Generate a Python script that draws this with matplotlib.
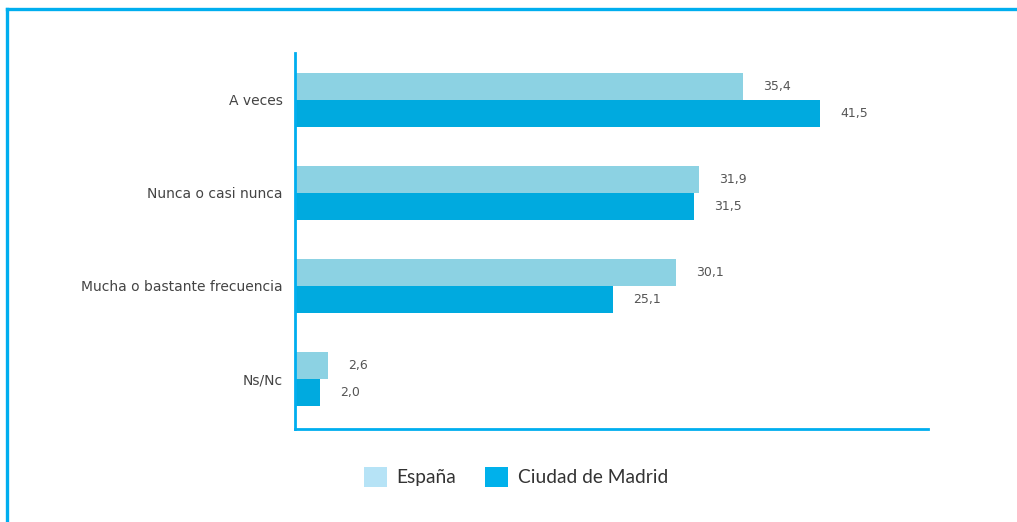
import matplotlib
matplotlib.use("Agg")
import matplotlib.pyplot as plt
from matplotlib.patches import Patch
import numpy as np

categories = ["A veces", "Nunca o casi nunca", "Mucha o bastante frecuencia", "Ns/Nc"]
espana = [35.4, 31.9, 30.1, 2.6]
madrid = [41.5, 31.5, 25.1, 2.0]
series_names = ["España", "Ciudad de Madrid"]

c_esp = "#8CD2E3"
c_mad = "#00AADF"
c_esp_leg = "#B6E3F6"
c_mad_leg = "#00B1EB"
c_line = "#00AEEF"

fig = plt.figure(figsize=(10.17, 5.22), dpi=100)
fig.patch.set_facecolor("white")

# outer frame (top and left lines)
fig.add_artist(plt.Line2D([7/1017, 7/1017], [0, 1 - 9/522], transform=fig.transFigure,
                          color=c_line, lw=2.4, solid_capstyle="projecting"))
fig.add_artist(plt.Line2D([7/1017, 1], [1 - 9/522, 1 - 9/522], transform=fig.transFigure,
                          color=c_line, lw=2.4, solid_capstyle="projecting"))

ax = fig.add_axes([295/1017, 1 - 429/522, (928 - 295)/1017, (429 - 53)/522])
y = np.arange(len(categories))
h = 0.29
ax.barh(y - h/2, espana, height=h, color=c_esp, zorder=2)
ax.barh(y + h/2, madrid, height=h, color=c_mad, zorder=2)

ax.set_xlim(0, 50)
ax.set_ylim(3.54, -0.5)
ax.set_yticks(y)
ax.set_yticklabels(categories, fontsize=10, color="#444444")
ax.tick_params(axis="y", length=0, pad=9)
ax.set_xticks([])
for s in ["top", "right"]:
    ax.spines[s].set_visible(False)
for s in ["left", "bottom"]:
    ax.spines[s].set_color(c_line)
    ax.spines[s].set_linewidth(2.0)

for yi, v in zip(y, espana):
    ax.annotate(f"{v:.1f}".replace(".", ","), (v, yi - h/2), xytext=(20, 0),
                textcoords="offset pixels", va="center", ha="left", fontsize=9, color="#555555")
for yi, v in zip(y, madrid):
    ax.annotate(f"{v:.1f}".replace(".", ","), (v, yi + h/2), xytext=(20, 0),
                textcoords="offset pixels", va="center", ha="left", fontsize=9, color="#555555")

handles = [Patch(facecolor=c_esp_leg, edgecolor="none"), Patch(facecolor=c_mad_leg, edgecolor="none")]
leg = fig.legend(handles, series_names, loc="center", bbox_to_anchor=(516/1017, 1 - 477/522),
                 ncol=2, frameon=False, handlelength=1.2, handleheight=1.2,
                 handletextpad=0.5, columnspacing=1.5, prop={"family": "Lato", "size": 13.8})
for t in leg.get_texts():
    t.set_color("#333333")

fig.savefig("out.png", dpi=100, facecolor="white")
